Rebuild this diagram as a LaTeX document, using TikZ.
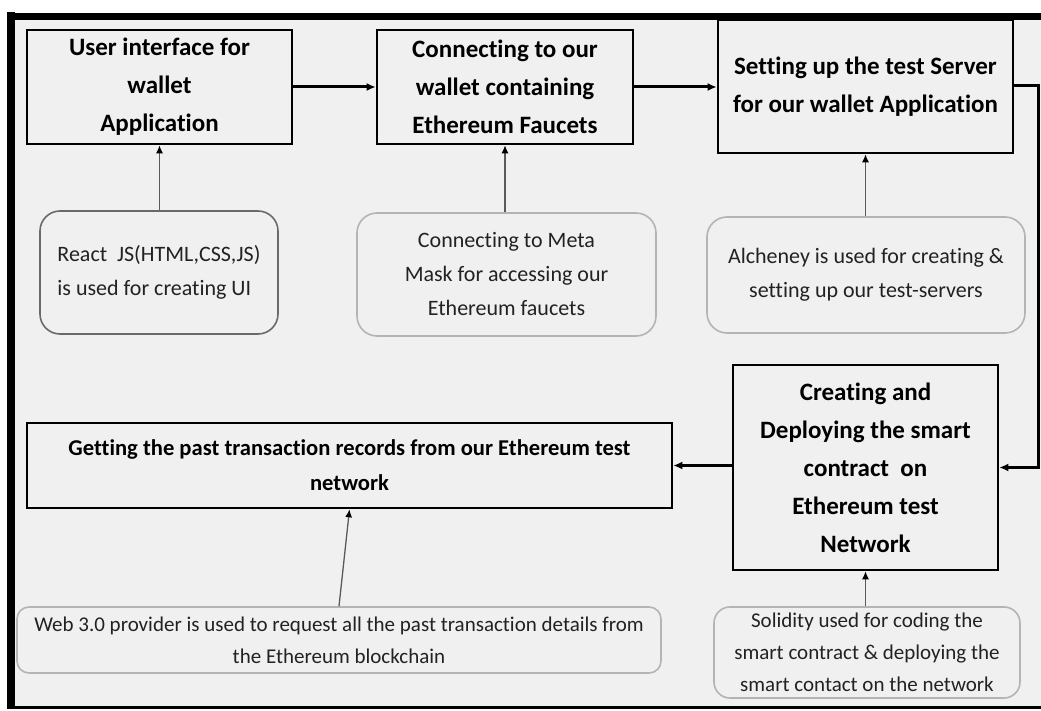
\documentclass[tikz,border=0pt]{standalone}
\usepackage{fontspec}
\setmainfont{Carlito}[Ligatures={NoCommon}]
\usetikzlibrary{arrows.meta}
\definecolor{bgc}{HTML}{F0F0F0}
\definecolor{subline}{HTML}{B4B4B4}
\definecolor{subdark}{HTML}{6A6A6A}
\definecolor{txtgray}{HTML}{222222}
\definecolor{lnkgray}{HTML}{5A5A5A}
\tikzset{
  headbox/.style={draw=black, line width=2.6pt, fill=bgc, inner sep=0pt,
    font=\bfseries\fontsize{25}{38}\selectfont, align=center},
  subbox/.style={draw=subline, line width=1.6pt, rounded corners=20pt, fill=bgc,
    inner sep=0pt, text=txtgray, font=\fontsize{22}{34}\selectfont, align=center},
  mainlink/.style={line width=3pt, -{Latex[length=9pt,width=8pt]}},
  sublink/.style={draw=lnkgray, line width=1.3pt, -{Latex[length=8pt,width=7pt,color=black]}},
}
\begin{document}
\begin{tikzpicture}[x=1pt,y=-1pt]
\useasboundingbox (0,0) rectangle (1041,711);
\fill[white] (0,0) rectangle (1041,711);
\fill[bgc] (11,16) rectangle (1041,707);
\draw[line width=8pt] (11,12.5) -- (11,709);
\draw[line width=7pt] (7,16.5) -- (1041,16.5);
\draw[line width=3pt] (7,707) -- (1041,707);

% main boxes
\node[headbox, minimum width=265pt, minimum height=114pt] (b1) at (159.5,87)
  {User interface for\\wallet\\Application};
\node[headbox, minimum width=256pt, minimum height=114pt] (b2) at (505,87)
  {Connecting to our\\wallet containing\\Ethereum Faucets};
\node[headbox, minimum width=295pt, minimum height=133pt] (b3) at (865.5,86.5)
  {Setting up the test Server\\for our wallet Application};
\node[headbox, minimum width=265pt, minimum height=205pt] (b5) at (865.5,467.5)
  {Creating and\\Deploying the smart\\contract\ \ on\\Ethereum test\\Network};
\node[headbox, minimum width=645pt, minimum height=85pt, font=\bfseries\fontsize{22.6}{35}\selectfont] (b4) at (349.5,465.5)
  {Getting the past transaction records from our Ethereum test\\network};

% sub boxes
\node[subbox, draw=subdark, minimum width=238pt, minimum height=123pt, align=left] (s1) at (159,272.5)
  {React\ \ JS(HTML,CSS,JS)\\is used for creating UI};
\node[subbox, minimum width=299pt, minimum height=123pt] (s2) at (506.5,274.5)
  {Connecting to Meta\\Mask for accessing our\\Ethereum faucets};
\node[subbox, minimum width=318pt, minimum height=116pt] (s3) at (866,275)
  {Alcheney is used for creating \&\\setting up our test-servers};
\node[subbox, minimum width=644pt, minimum height=66pt, rounded corners=12pt,
  font=\fontsize{21}{32}\selectfont] (s4) at (339,640)
  {Web 3.0 provider is used to request all the past transaction details from\\the Ethereum blockchain};
\node[subbox, minimum width=306pt, minimum height=91pt, rounded corners=16pt,
  font=\fontsize{21}{32}\selectfont] (s5) at (867,652.5)
  {Solidity used for coding the\\smart contract \& deploying the\\smart contact on the network};

% main connectors
\draw[mainlink] (b1.east) -- (b2.west);
\draw[mainlink] (b2.east) -- (b3.west |- b2.east);
\coordinate (rc) at (1038,86);
\draw[mainlink] (b3.east |- rc) -- (rc) -- (rc |- b5.east) -- (b5.east);
\draw[mainlink] (b5.west |- b4.east) -- (b4.east);

% sub connectors
\draw[sublink] (s1.north -| b1.south) -- (b1.south);
\draw[sublink] (s2.north -| b2.south) -- (b2.south);
\draw[sublink] (s3.north -| b3.south) -- (b3.south);
\draw[sublink] (s4.north) -- (b4.south);
\draw[sublink] (s5.north -| b5.south) -- (b5.south);
\end{tikzpicture}
\end{document}
